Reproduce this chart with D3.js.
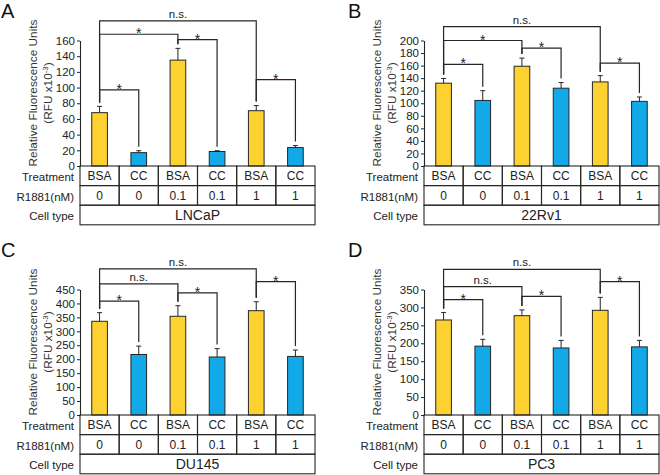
<!DOCTYPE html>
<html>
<head>
<meta charset="utf-8">
<script src="https://cdn.jsdelivr.net/npm/d3@7"></script>
<style>
  body { margin: 0; background: #fff; }
  svg { display: block; font-family: "Liberation Sans", Arial, sans-serif; }
</style>
</head>
<body>
<svg id="chart" width="660" height="475"></svg>
<script>
// column labels shared by all four panels
const treatments = ['BSA', 'CC', 'BSA', 'CC', 'BSA', 'CC'];
const r1881 = ['0', '0', '0.1', '0.1', '1', '1'];

const panelLetters = ['A', 'B', 'C', 'D'];
const cellTypes = ['LNCaP', '22Rv1', 'DU145', 'PC3'];
const yMax = [160, 200, 450, 350];
const yStep = [20, 20, 50, 50];

// means and error (SD), RFU x10^-3
const lncapMean = [68, 17, 135, 18.5, 70.5, 23.5];
const lncapErr  = [8, 2.5, 15, 1, 6.5, 2.5];
const rv1Mean   = [132, 104.5, 159, 124, 134, 103];
const rv1Err    = [7.5, 15.5, 13, 9, 10, 7];
const du145Mean = [336, 217, 354, 208, 374, 210];
const du145Err  = [31, 30, 38, 30, 32, 23];
const pc3Mean   = [265, 192, 277, 187, 292, 190];
const pc3Err    = [21, 19, 16, 21, 36, 18];

// significance brackets: [from column, to column, height in data units, label]
const lncapSig = [[0, 4, 185, 'n.s.'], [0, 2, 168, '*'], [2, 3, 161, '*'], [0, 1, 97, '*'], [4, 5, 110, '*']];
const rv1Sig   = [[0, 4, 222, 'n.s.'], [0, 2, 200, '*'], [2, 3, 188, '*'], [0, 1, 162, '*'], [4, 5, 164, '*']];
const du145Sig = [[0, 4, 524, 'n.s.'], [0, 2, 470, 'n.s.'], [2, 3, 438, '*'], [0, 1, 408, '*'], [4, 5, 478, '*']];
const pc3Sig   = [[0, 4, 406, 'n.s.'], [0, 2, 358, 'n.s.'], [2, 3, 331, '*'], [0, 1, 322, '*'], [4, 5, 372, '*']];

const means = [lncapMean, rv1Mean, du145Mean, pc3Mean];
const errs = [lncapErr, rv1Err, du145Err, pc3Err];
const sigs = [lncapSig, rv1Sig, du145Sig, pc3Sig];

// layout
const origins = [[80, 166], [424, 166], [80, 415], [424, 415]];
const plotW = 235, plotH = 125.5, rowH = 19.6;
const ink = '#262626';
const yellow = '#fdd12f', blue = '#12a9e8';

const svg = d3.select('#chart');

panelLetters.forEach((letter, p) => {
  const [ox, oy] = origins[p];
  const g = svg.append('g').attr('transform', 'translate(' + ox + ',' + oy + ')');

  const x = d3.scaleBand().domain(d3.range(6)).range([0, plotW]).padding(0);
  const y = d3.scaleLinear().domain([0, yMax[p]]).range([0, -plotH]);
  const cx = i => x(i) + x.bandwidth() / 2;
  const bw = x.bandwidth() * 0.4;
  const errTop = i => y(means[p][i] + errs[p][i]);

  // panel letter
  svg.append('text')
    .attr('x', ox - (p % 2 === 0 ? 79 : 76))
    .attr('y', oy - (p < 2 ? 148 : 158))
    .attr('font-size', 20)
    .attr('fill', '#111')
    .text(letter);

  // y axis
  const axis = g.append('g')
    .call(d3.axisLeft(y).tickValues(d3.range(0, yMax[p] + 1, yStep[p])).tickSize(3).tickSizeOuter(0).tickPadding(2));
  axis.select('.domain').attr('stroke', ink).attr('stroke-width', 1.1);
  axis.selectAll('.tick line').attr('stroke', ink);
  axis.selectAll('.tick text').attr('font-size', 11.5).attr('fill', '#222')
    .attr('font-family', '"Liberation Sans", Arial, sans-serif');

  // axis title
  const title = g.append('text')
    .attr('transform', 'translate(-43,-73) rotate(-90)')
    .attr('text-anchor', 'middle')
    .attr('font-size', 11.8)
    .attr('fill', '#333');
  title.append('tspan').attr('x', 0).attr('dy', 0).text('Relative Fluorescence Units');
  const t2 = title.append('tspan').attr('x', 0).attr('dy', 14.5).text('(RFU x10');
  t2.append('tspan').attr('dy', -4).attr('font-size', 8).text('-3');
  t2.append('tspan').attr('dy', 4).text(')');

  // bars
  g.selectAll('rect.bar')
    .data(means[p])
    .enter()
    .append('rect')
    .attr('class', 'bar')
    .attr('x', (d, i) => cx(i) - bw / 2)
    .attr('y', d => y(d))
    .attr('width', bw)
    .attr('height', d => y(0) - y(d))
    .attr('fill', (d, i) => treatments[i] === 'BSA' ? yellow : blue)
    .attr('stroke', ink)
    .attr('stroke-width', 1);

  // error bars (upper only)
  const eb = g.selectAll('g.err')
    .data(means[p])
    .enter()
    .append('g')
    .attr('class', 'err');
  eb.append('line')
    .attr('x1', (d, i) => cx(i)).attr('x2', (d, i) => cx(i))
    .attr('y1', d => y(d)).attr('y2', (d, i) => errTop(i))
    .attr('stroke', ink);
  eb.append('line')
    .attr('x1', (d, i) => cx(i) - 2.5).attr('x2', (d, i) => cx(i) + 2.5)
    .attr('y1', (d, i) => errTop(i)).attr('y2', (d, i) => errTop(i))
    .attr('stroke', ink);

  // significance brackets
  const br = g.selectAll('g.sig')
    .data(sigs[p])
    .enter()
    .append('g')
    .attr('class', 'sig');
  br.append('path')
    .attr('d', d => {
      const h = y(d[2]);
      return 'M' + cx(d[0]) + ',' + (errTop(d[0]) - 4) +
             'V' + h + 'H' + cx(d[1]) + 'V' + (errTop(d[1]) - 4);
    })
    .attr('fill', 'none')
    .attr('stroke', ink)
    .attr('stroke-width', 1.2);
  br.append('text')
    .attr('x', d => (cx(d[0]) + cx(d[1])) / 2)
    .attr('y', d => d[3] === '*' ? y(d[2]) + 4 : y(d[2]) - 3)
    .attr('text-anchor', 'middle')
    .attr('font-size', d => d[3] === '*' ? 14 : 11.5)
    .attr('fill', '#222')
    .text(d => d[3]);

  // table under the plot
  const rows = [treatments, r1881];
  const rowNames = ['Treatment', 'R1881(nM)', 'Cell type'];
  rows.forEach((vals, r) => {
    g.selectAll('rect.cell' + r)
      .data(vals)
      .enter()
      .append('rect')
      .attr('class', 'cell' + r)
      .attr('x', (d, i) => x(i))
      .attr('y', r * rowH)
      .attr('width', x.bandwidth())
      .attr('height', rowH)
      .attr('fill', 'none')
      .attr('stroke', ink)
      .attr('stroke-width', 1.1);
    g.selectAll('text.cell' + r)
      .data(vals)
      .enter()
      .append('text')
      .attr('class', 'cell' + r)
      .attr('x', (d, i) => cx(i))
      .attr('y', r * rowH + rowH / 2)
      .attr('dy', '0.36em')
      .attr('text-anchor', 'middle')
      .attr('font-size', 12)
      .attr('fill', '#222')
      .text(d => d);
  });
  g.append('rect')
    .attr('x', 0).attr('y', 2 * rowH)
    .attr('width', plotW).attr('height', rowH)
    .attr('fill', 'none').attr('stroke', ink).attr('stroke-width', 1.1);
  g.append('text')
    .attr('x', plotW / 2).attr('y', 2.5 * rowH)
    .attr('dy', '0.36em')
    .attr('text-anchor', 'middle')
    .attr('font-size', 14)
    .attr('fill', '#222')
    .text(cellTypes[p]);

  rowNames.forEach((name, r) => {
    g.append('text')
      .attr('x', -6)
      .attr('y', r * rowH + rowH / 2 + 1)
      .attr('dy', '0.36em')
      .attr('text-anchor', 'end')
      .attr('font-size', 11.5)
      .attr('fill', '#222')
      .text(name);
  });
});
</script>
</body>
</html>
